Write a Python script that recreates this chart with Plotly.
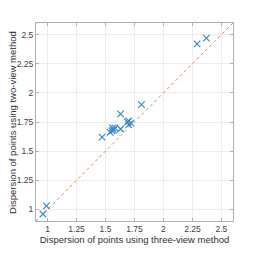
import plotly.graph_objects as go

three_view = [0.96, 0.99, 1.47, 1.54, 1.555, 1.56, 1.58, 1.57, 1.63, 1.63, 1.69, 1.70, 1.70, 1.72, 1.81, 2.29, 2.37]
two_view   = [0.96, 1.03, 1.62, 1.66, 1.675, 1.70, 1.70, 1.68, 1.69, 1.82, 1.75, 1.76, 1.725, 1.74, 1.90, 2.42, 2.47]
diag = [0.9, 2.6]
tick_vals = [1, 1.25, 1.5, 1.75, 2, 2.25, 2.5]
tick_text = ["1", "1.25", "1.5", "1.75", "2", "2.25", "2.5"]

blue = "#2E86D0"
fig = go.Figure()
fig.add_trace(go.Scatter(x=diag, y=diag, mode="lines",
                         line=dict(color="#E8835A", width=1, dash="dot"),
                         showlegend=False, hoverinfo="skip"))
fig.add_trace(go.Scatter(x=three_view, y=two_view, mode="markers",
                         marker=dict(symbol="x-thin", size=6.5, color=blue,
                                     line=dict(color=blue, width=1.1)),
                         showlegend=False, hoverinfo="skip"))

axis_common = dict(range=[0.9, 2.6], tickvals=tick_vals, ticktext=tick_text,
                   showgrid=True, gridcolor="#EDEDED", gridwidth=1,
                   showline=True, linecolor="#B0B0B0", linewidth=1, mirror="ticks",
                   ticks="inside", ticklen=3, tickcolor="#B0B0B0",
                   zeroline=False, automargin=False,
                   tickfont=dict(size=8.5, color="#404040"))

fig.update_layout(
    width=253, height=253,
    margin=dict(l=36, r=20, t=23, b=32),
    paper_bgcolor="white", plot_bgcolor="white",
    hovermode=False, dragmode=False,
    font=dict(family="Liberation Sans, Arial, sans-serif", size=9, color="#404040"),
    xaxis=dict(**axis_common,
               title=dict(text="Dispersion of points using three-view method",
                          font=dict(size=9.5, color="#303030"), standoff=2)),
    yaxis=dict(**axis_common),
    annotations=[dict(text="Dispersion of points using two-view method",
                      xref="paper", yref="paper", x=-0.122, y=0.5,
                      xanchor="center", yanchor="middle", textangle=-90,
                      showarrow=False, font=dict(size=9.5, color="#303030"))],
)

fig.write_html("out.html", config={"displayModeBar": False, "staticPlot": True},
               post_script="document.body.style.margin='0';document.body.style.overflow='hidden';")
